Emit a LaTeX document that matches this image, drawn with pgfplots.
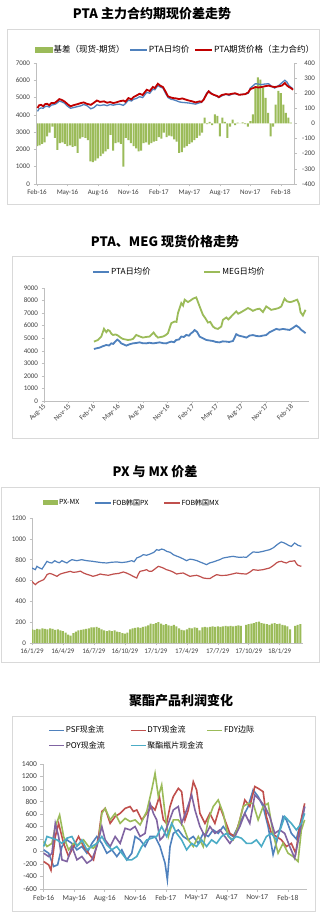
\documentclass[border=0pt]{standalone}
\usepackage{fontspec}
\setmainfont{Carlito}
\newfontfamily\cjk{Noto Sans CJK SC}
\usepackage{pgfplots}
\pgfplotsset{compat=1.18}
\definecolor{pgreen}{HTML}{9BBB59}
\definecolor{pblue}{HTML}{4F81BD}
\definecolor{pred}{HTML}{C0504D}
\definecolor{dred}{HTML}{C00000}
\definecolor{ppurple}{HTML}{8064A2}
\definecolor{paqua}{HTML}{4BACC6}
\definecolor{framegray}{HTML}{D9D9D9}
\definecolor{axgray}{HTML}{BFBFBF}
\definecolor{labgray}{HTML}{404040}
\pgfplotsset{
  exc/.style={scale only axis, anchor=south west,
    axis line style={axgray, line width=0.6pt},
    tick style={axgray, line width=0.5pt},
    tick align=outside, major tick length=2.5pt,
    tick label style={font=\fontsize{7}{8}\selectfont, text=labgray},
    legend cell align=left},
}
\begin{document}
\begin{tikzpicture}
\path[use as bounding box] (0pt,0pt) rectangle (321pt,917pt);
\fill[white] (0pt,0pt) rectangle (321pt,917pt);
\draw[framegray, line width=0.8pt] (7pt,713pt) rectangle (319.5pt,888pt);
\draw[framegray, line width=0.8pt] (12pt,479pt) rectangle (318pt,661pt);
\draw[framegray, line width=0.8pt] (1.5pt,255pt) rectangle (319pt,430pt);
\draw[framegray, line width=0.8pt] (12pt,6pt) rectangle (315pt,201pt);
\node[font=\cjk\bfseries\fontsize{13}{15}\selectfont] at (152pt,903pt) {PTA 主力合约期现价差走势};
\node[font=\cjk\bfseries\fontsize{13}{15}\selectfont] at (165pt,675pt) {PTA、MEG 现货价格走势};
\node[font=\cjk\bfseries\fontsize{13}{15}\selectfont] at (155pt,445pt) {PX 与 MX 价差};
\node[font=\cjk\bfseries\fontsize{13}{15}\selectfont] at (181pt,216pt) {聚酯产品利润变化};

% ---------------- Panel 1: bars (right axis)
\begin{axis}[exc, at={(36pt,733pt)}, width=258pt, height=121pt,
  xmin=-0.1, xmax=25.3, ymin=-400, ymax=400,
  axis y line*=right, axis x line=none,
  ytick={-400,-300,-200,-100,0,100,200,300,400},
  yticklabels={-400,-300,-200,-100,0,100,200,300,400},
  yticklabel style={anchor=east, xshift=22pt}]
\addplot[ybar, bar width=2pt, fill=pgreen, draw=none] coordinates {
(0,-150)(0.25,-145)(0.5,-135)(0.75,-125)(1,-85)(1.25,-60)(1.5,-20)(1.75,-95)(2,-175)(2.25,-130)(2.5,-125)(2.75,-135)(3,-150)(3.25,-145)(3.5,-155)(3.75,-150)(4,-195)(4.25,-100)(4.5,-90)(4.75,-95)(5,-110)(5.25,-250)(5.5,-255)(5.75,-245)(6,-230)(6.25,-215)(6.5,-200)(6.75,-185)(7,-170)(7.25,-75)(7.5,-180)(7.75,-130)(8,-125)(8.25,-135)(8.5,-285)(8.75,-95)(9,-110)(9.25,-130)(9.5,-150)(9.75,-165)(10,-185)(10.25,-180)(10.5,-130)(10.75,-125)(11,-140)(11.25,-130)(11.5,-120)(11.75,-115)(12,-90)(12.25,-100)(12.5,-60)(12.75,-90)(13,-80)(13.25,-85)(13.5,-105)(13.75,-120)(14,-195)(14.25,-190)(14.5,-160)(14.75,-150)(15,-135)(15.25,-125)(15.5,-110)(15.75,-95)(16,-80)(16.25,-60)(16.5,38)(16.75,-5)(17,10)(17.25,-10)(17.5,60)(17.75,50)(18,-85)(18.25,38)(18.5,10)(18.75,-95)(19,-20)(19.25,25)(19.5,-10)(19.75,5)(20,0)(20.25,8)(20.5,-5)(20.75,-20)(21,15)(21.25,60)(21.5,238)(21.75,305)(22,290)(22.25,238)(22.5,170)(22.75,70)(23,-85)(23.25,-20)(23.5,125)(23.75,215)(24,200)(24.25,125)(24.5,70)(24.75,38)(25,5)};
\end{axis}
% ---------------- Panel 1: lines (left axis)
\begin{axis}[exc, at={(36pt,733pt)}, width=258pt, height=121pt,
  xmin=-0.1, xmax=25.3, ymin=0, ymax=7000,
  axis y line*=left, axis x line*=bottom,
  xtick={0,3,6,9,12,15,18,21,24},
  xticklabels={Feb-16,May-16,Aug-16,Nov-16,Feb-17,May-17,Aug-17,Nov-17,Feb-18},
  ytick={0,1000,2000,3000,4000,5000,6000,7000},
  yticklabels={0,1000,2000,3000,4000,5000,6000,7000},
  legend columns=3,
  legend image code/.code={\draw[#1] (0pt,0pt) -- (17pt,0pt);},
  legend style={at={(0,1)}, anchor=west, xshift=-1pt, yshift=13pt, draw=none, fill=none, inner sep=0pt,
    font=\cjk\fontsize{8.5}{10}\selectfont, nodes={inner xsep=1pt, inner ysep=0pt},
    /tikz/every even column/.append style={column sep=4pt}}]
\addlegendimage{legend image code/.code={\fill[pgreen] (0pt,-2.5pt) rectangle (17pt,2.5pt);}}
\addlegendentry{基差（现货-期货）}
\addplot[pblue, line width=1.3pt] coordinates {
(0.05,4200)(0.2,4350)(0.4,4400)(0.6,4380)(0.8,4480)(1.0,4500)(1.2,4450)(1.4,4560)(1.7,4600)(1.9,4650)(2.2,4800)(2.4,4760)(2.7,4680)(3.0,4500)(3.3,4380)(3.6,4420)(4.0,4480)(4.3,4520)(4.6,4600)(4.9,4540)(5.3,4350)(5.6,4420)(5.9,4580)(6.2,4540)(6.6,4580)(6.9,4530)(7.2,4600)(7.5,4560)(7.8,4600)(8.1,4620)(8.5,4550)(8.7,4650)(9.0,4850)(9.3,4800)(9.5,4900)(9.8,4950)(10.1,5050)(10.4,5000)(10.8,5300)(11.1,5250)(11.4,5480)(11.6,5450)(11.9,5700)(12.1,5620)(12.4,5550)(12.7,5200)(12.9,5000)(13.2,4900)(13.4,4880)(13.7,4820)(14.0,4750)(14.3,4720)(14.7,4700)(15.0,4680)(15.3,4650)(15.6,4620)(16.0,4700)(16.2,4720)(16.4,4900)(16.7,5250)(16.9,5380)(17.1,5280)(17.4,5150)(17.7,5080)(17.9,5000)(18.2,5100)(18.6,5200)(18.9,5120)(19.2,5200)(19.5,5230)(19.9,5160)(20.2,5180)(20.5,5200)(20.8,5250)(21.0,5550)(21.3,5700)(21.5,5800)(21.8,5780)(22.1,5750)(22.4,5780)(22.8,5800)(23.1,5650)(23.4,5550)(23.8,5700)(24.1,5850)(24.4,6000)(24.6,5900)(24.8,5700)(25.0,5600)(25.2,5500)};
\addlegendentry{PTA日均价}
\addplot[dred, line width=1.8pt] coordinates {
(0.05,4390)(0.2,4550)(0.4,4580)(0.6,4500)(0.8,4620)(1.0,4640)(1.2,4560)(1.4,4680)(1.7,4680)(1.9,4760)(2.2,4910)(2.4,4870)(2.7,4780)(3.0,4620)(3.3,4490)(3.6,4560)(4.0,4620)(4.3,4680)(4.6,4720)(4.9,4640)(5.3,4580)(5.6,4700)(5.9,4830)(6.2,4750)(6.6,4780)(6.9,4700)(7.2,4740)(7.5,4680)(7.8,4720)(8.1,4780)(8.5,4830)(8.7,4760)(9.0,4970)(9.3,4900)(9.5,5030)(9.8,5120)(10.1,5220)(10.4,5150)(10.8,5450)(11.1,5380)(11.4,5610)(11.6,5550)(11.9,5800)(12.1,5700)(12.4,5610)(12.7,5300)(12.9,5070)(13.2,5000)(13.4,4970)(13.7,4950)(14.0,4910)(14.3,4950)(14.7,4870)(15.0,4820)(15.3,4780)(15.6,4720)(16.0,4780)(16.2,4750)(16.4,4870)(16.7,5200)(16.9,5360)(17.1,5250)(17.4,5160)(17.7,5100)(17.9,5030)(18.2,5150)(18.6,5200)(18.9,5180)(19.2,5220)(19.5,5250)(19.9,5160)(20.2,5180)(20.5,5200)(20.8,5300)(21.0,5490)(21.3,5550)(21.5,5610)(21.8,5580)(22.1,5610)(22.4,5650)(22.8,5690)(23.1,5640)(23.4,5610)(23.8,5650)(24.1,5690)(24.4,5840)(24.6,5700)(24.8,5610)(25.0,5550)(25.2,5450)};
\addlegendentry{PTA期货价格（主力合约）}
\end{axis}

% ---------------- Panel 2
\begin{axis}[exc, at={(44pt,516pt)}, width=265pt, height=113pt,
  xmin=-6, xmax=26.2, ymin=0, ymax=9000,
  axis y line*=left, axis x line*=bottom,
  xtick={-6,-3,0,3,6,9,12,15,18,21,24},
  xticklabels={Aug-15,Nov-15,Feb-16,May-16,Aug-16,Nov-16,Feb-17,May-17,Aug-17,Nov-17,Feb-18},
  xticklabel style={rotate=45, anchor=east, yshift=-2pt, inner sep=0.5pt},
  ytick={0,1000,2000,3000,4000,5000,6000,7000,8000,9000},
  yticklabels={0,1000,2000,3000,4000,5000,6000,7000,8000,9000},
  legend columns=2,
  legend image code/.code={\draw[#1] (0pt,0pt) -- (16pt,0pt);},
  legend style={at={(0,1)}, anchor=west, xshift=48pt, yshift=16pt, draw=none, fill=none, inner sep=0pt,
    font=\cjk\fontsize{8.3}{10}\selectfont, nodes={inner xsep=1pt, inner ysep=0pt},
    /tikz/every even column/.append style={column sep=52pt}}]
\addplot[pblue, line width=1.8pt] coordinates {
(0.07,4140)(0.4,4200)(0.76,4250)(1.1,4350)(1.57,4460)(1.9,4420)(2.18,4590)(2.4,4550)(2.58,4670)(2.91,4890)(3.1,4800)(3.39,4590)(3.7,4500)(4.00,4410)(4.4,4520)(4.81,4590)(5.2,4620)(5.62,4670)(6.0,4600)(6.43,4590)(6.8,4640)(7.24,4590)(7.6,4620)(8.05,4670)(8.5,4600)(8.86,4590)(9.2,4680)(9.47,4730)(9.8,4680)(10.07,4860)(10.4,4900)(10.68,5130)(11.0,5100)(11.29,5260)(11.6,5200)(11.89,5400)(12.1,5500)(12.30,5650)(12.6,5500)(12.91,5130)(13.3,5000)(13.72,4860)(14.1,4820)(14.53,4780)(14.9,4700)(15.34,4670)(15.7,4750)(16.15,4730)(16.5,4700)(16.96,4780)(17.36,5320)(17.7,5200)(18.17,5130)(18.6,5050)(18.98,5210)(19.4,5250)(19.79,5180)(20.2,5150)(20.60,5210)(21.0,5250)(21.41,5480)(21.8,5600)(22.22,5740)(22.6,5680)(23.03,5740)(23.4,5700)(23.84,5660)(24.2,5800)(24.65,6010)(25.0,5850)(25.26,5660)(25.5,5550)(25.78,5400)};
\addlegendentry{PTA日均价}
\addplot[pgreen, line width=1.8pt] coordinates {
(0.07,4730)(0.56,4860)(0.96,5130)(1.29,5750)(1.57,5480)(1.77,5650)(1.98,5580)(2.2,5350)(2.38,5260)(2.7,5300)(2.99,5210)(3.3,5050)(3.60,4940)(3.9,4900)(4.20,4860)(4.5,4880)(4.81,4940)(5.21,5260)(5.6,5150)(6.02,5050)(6.4,5100)(6.83,5130)(7.32,5450)(7.6,5200)(7.85,5050)(8.2,5100)(8.45,5130)(8.8,5250)(9.06,5400)(9.47,6200)(9.87,6330)(10.1,6300)(10.28,7000)(10.68,7800)(10.9,7600)(11.09,8070)(11.49,7880)(11.8,8000)(12.10,8150)(12.50,8250)(12.7,7900)(12.91,7530)(13.31,6860)(13.6,6600)(13.92,6250)(14.2,6300)(14.53,5930)(14.8,5800)(15.13,5740)(15.54,5930)(15.74,6460)(16.15,6650)(16.4,6500)(16.75,6730)(17.0,6900)(17.36,7130)(17.6,6950)(17.97,7080)(18.4,7250)(18.78,7400)(19.1,7300)(19.38,7180)(19.8,7300)(20.19,7350)(20.60,7080)(21.00,7530)(21.3,7400)(21.61,7260)(21.9,7300)(22.22,7350)(22.5,7400)(22.83,7530)(23.23,8150)(23.5,7950)(23.84,7880)(24.1,7900)(24.45,7990)(24.77,8070)(25.0,7700)(25.17,7080)(25.46,6810)(25.78,7260)};
\addlegendentry{MEG日均价}
\end{axis}

% ---------------- Panel 3
\begin{axis}[exc, at={(32pt,274pt)}, width=271pt, height=125pt,
  xmin=0, xmax=26.26, ymin=0, ymax=1200,
  axis y line*=left, axis x line*=bottom,
  xtick={0,3,6,9,12,15,18,21,24},
  xticklabels={16/1/29,16/4/29,16/7/29,16/10/29,17/1/29,17/4/29,17/7/29,17/10/29,18/1/29},
  ytick={0,200,400,600,800,1000,1200},
  yticklabels={0,200,400,600,800,1000,1200},
  legend columns=3,
  legend image code/.code={\draw[#1] (0pt,0pt) -- (16pt,0pt);},
  legend style={at={(0,1)}, anchor=west, xshift=11pt, yshift=15pt, draw=none, fill=none, inner sep=0pt,
    font=\cjk\fontsize{7}{9}\selectfont, nodes={inner xsep=1pt, inner ysep=0pt},
    /tikz/every even column/.append style={column sep=14pt}}]
\addplot[ybar, bar width=2pt, fill=pgreen, draw=none,
  legend image code/.code={\fill[pgreen] (0pt,-2.5pt) rectangle (15pt,2.5pt);}] coordinates {
(0,130)(0.25,125)(0.5,135)(0.75,130)(1,140)(1.25,135)(1.5,130)(1.75,140)(2,135)(2.25,125)(2.5,130)(2.75,120)(3,115)(3.25,100)(3.5,80)(3.75,70)(4,95)(4.25,110)(4.5,120)(4.75,125)(5,130)(5.25,135)(5.5,140)(5.75,150)(6,150)(6.25,155)(6.5,145)(6.75,130)(7,120)(7.25,115)(7.5,120)(7.75,115)(8,120)(8.25,110)(8.5,105)(8.75,95)(9,90)(9.25,100)(9.5,130)(9.75,140)(10,145)(10.25,150)(10.5,145)(10.75,155)(11,160)(11.25,170)(11.5,185)(11.75,180)(12,190)(12.25,200)(12.5,185)(12.75,175)(13,180)(13.25,170)(13.5,165)(13.75,175)(14,160)(14.25,140)(14.5,125)(14.75,120)(15,130)(15.25,145)(15.5,140)(15.75,150)(16,145)(16.25,120)(16.5,150)(16.75,155)(17,150)(17.25,155)(17.5,160)(17.75,155)(18,160)(18.25,155)(18.5,160)(18.75,165)(19,160)(19.25,165)(19.5,160)(19.75,165)(20,170)(20.25,165)(20.75,175)(21,180)(21.25,185)(21.5,190)(21.75,200)(22,205)(22.25,190)(22.5,185)(22.75,180)(23,175)(23.25,185)(23.5,190)(23.75,180)(24,185)(24.25,175)(24.5,170)(24.75,160)(25,130)(25.5,165)(25.75,175)(26,180)};
\addlegendentry{PX-MX}
\addplot[pblue, line width=1.2pt] coordinates {
(0,720)(0.16,712)(0.32,704)(0.48,736)(0.7,722)(0.97,710)(1.2,745)(1.45,784)(1.7,772)(1.93,768)(2.2,790)(2.42,778)(2.65,770)(2.90,790)(3.1,780)(3.38,768)(3.6,785)(3.87,800)(4.1,795)(4.35,790)(4.8,800)(5.32,790)(5.8,785)(6.28,778)(6.7,772)(7.25,768)(7.7,775)(8.22,778)(8.7,772)(9.18,778)(9.66,790)(9.9,780)(10.15,816)(10.5,830)(10.79,848)(11.1,842)(11.44,854)(11.8,870)(12.08,896)(12.3,890)(12.56,902)(12.8,895)(13.05,880)(13.4,870)(13.69,848)(14.0,835)(14.34,822)(14.7,805)(14.98,790)(15.3,805)(15.63,800)(16.0,790)(16.27,778)(16.6,765)(16.91,752)(17.2,768)(17.56,778)(17.9,790)(18.20,800)(18.5,815)(18.85,822)(19.2,828)(19.49,832)(19.8,826)(20.14,822)(20.5,825)(20.78,822)(21.1,850)(21.42,874)(21.9,870)(22.39,880)(22.7,888)(23.03,896)(23.4,915)(23.68,938)(23.9,955)(24.16,970)(24.4,962)(24.65,950)(24.9,935)(25.13,928)(25.3,945)(25.45,960)(25.6,950)(25.77,938)(26.10,928)};
\addlegendentry{FOB韩国PX}
\addplot[pred, line width=1.2pt] coordinates {
(0,592)(0.16,575)(0.32,560)(0.48,575)(0.64,586)(0.9,598)(1.13,608)(1.3,630)(1.45,656)(1.7,668)(1.93,662)(2.2,650)(2.42,640)(2.7,660)(3.06,672)(3.4,680)(3.70,688)(4.0,678)(4.35,682)(4.7,690)(4.99,672)(5.3,660)(5.64,650)(5.9,640)(6.28,650)(6.6,662)(6.93,656)(7.4,650)(7.89,662)(8.4,668)(8.86,682)(9.2,670)(9.50,656)(9.8,640)(10.15,624)(10.3,660)(10.47,688)(10.8,695)(11.11,704)(11.3,690)(11.60,688)(11.9,710)(12.24,736)(12.5,728)(12.72,720)(13.0,705)(13.37,694)(13.7,680)(14.01,662)(14.3,668)(14.66,672)(15.0,655)(15.30,640)(15.6,645)(15.95,650)(16.3,638)(16.59,624)(16.9,620)(17.24,618)(17.5,635)(17.88,656)(18.3,648)(18.85,650)(19.3,660)(19.81,672)(20.3,665)(20.78,662)(21.1,680)(21.42,704)(21.9,698)(22.39,704)(22.7,712)(23.03,720)(23.4,745)(23.68,768)(23.9,780)(24.16,784)(24.4,775)(24.65,768)(24.97,784)(25.2,785)(25.45,790)(25.6,765)(25.77,746)(26.10,736)};
\addlegendentry{FOB韩国MX}
\end{axis}

% ---------------- Panel 4
\begin{axis}[exc, at={(43pt,28pt)}, width=264pt, height=125pt,
  xmin=128, xmax=922, ymin=-600, ymax=1400,
  axis y line*=left, axis x line*=bottom,
  tick label style={font=\fontsize{7.5}{9}\selectfont},
  xtick={130,221.8,313.6,405.4,497.2,589,680.8,772.6,864.4},
  xticklabels={Feb-16,May-16,Aug-16,Nov-16,Feb-17,May-17,Aug-17,Nov-17,Feb-18},
  ytick={-600,-400,-200,0,200,400,600,800,1000,1200,1400},
  yticklabels={-600,-400,-200,0,200,400,600,800,1000,1200,1400},
  legend columns=3,
  legend image code/.code={\draw[#1] (0pt,0pt) -- (15pt,0pt);},
  legend style={at={(0,1)}, anchor=north west, xshift=5pt, yshift=38pt, draw=none, fill=none, inner sep=0pt,
    font=\cjk\fontsize{8}{10}\selectfont, nodes={inner xsep=1pt, inner ysep=0pt}, row sep=7pt,
    /tikz/column 2/.append style={column sep=24pt},
    /tikz/column 4/.append style={column sep=2pt}}]
\addplot[pblue, line width=1.6pt] coordinates {
(130,27)(145,-27)(160,-240)(172,-213)(185,80)(200,186)(215,130)(230,27)(245,80)(260,-27)(275,130)(290,240)(305,130)(320,-27)(335,27)(350,-80)(365,27)(380,-133)(395,-27)(405,240)(420,186)(435,80)(450,240)(465,240)(480,80)(495,-186)(502,-450)(510,80)(520,290)(535,345)(550,240)(565,186)(580,240)(595,130)(610,290)(625,240)(640,345)(655,290)(670,400)(685,290)(700,240)(715,400)(730,560)(745,720)(760,985)(775,880)(790,720)(805,400)(820,-50)(835,240)(850,560)(860,505)(875,290)(890,200)(905,505)(915,720)};
\addlegendentry{PSF现金流}
\addplot[pred, line width=1.6pt] coordinates {
(130,-160)(145,-213)(152,-300)(165,240)(175,450)(190,130)(205,-80)(220,80)(235,240)(250,80)(265,-27)(280,-133)(295,240)(305,640)(315,690)(330,450)(345,560)(360,610)(375,690)(390,720)(400,640)(410,665)(425,505)(440,610)(455,720)(465,665)(478,880)(490,505)(500,450)(510,720)(520,880)(535,1010)(545,958)(555,505)(565,665)(580,1117)(590,985)(600,610)(615,450)(630,610)(645,450)(660,720)(675,505)(690,290)(705,240)(720,505)(735,825)(750,720)(765,1040)(775,1010)(790,958)(800,560)(815,290)(830,240)(845,186)(860,80)(875,130)(888,-27)(900,400)(915,770)};
\addlegendentry{DTY现金流}
\addplot[pgreen, line width=1.6pt] coordinates {
(130,160)(140,80)(155,130)(165,400)(178,585)(190,240)(205,27)(220,130)(235,106)(250,186)(265,80)(280,53)(295,160)(305,610)(315,690)(330,505)(345,610)(360,450)(375,530)(390,480)(405,505)(420,425)(440,640)(455,985)(465,1250)(475,880)(485,1065)(495,610)(505,240)(520,505)(535,505)(550,400)(565,186)(580,80)(595,240)(610,80)(625,505)(640,720)(655,825)(670,610)(685,240)(700,186)(715,400)(730,720)(745,770)(760,770)(775,505)(790,720)(805,770)(820,290)(835,-27)(850,130)(865,-27)(880,-80)(895,-160)(905,345)(915,505)};
\addlegendentry{FDY边际}
\addplot[ppurple, line width=1.6pt] coordinates {
(130,-27)(145,-80)(155,-27)(165,450)(175,240)(185,-133)(200,-160)(215,80)(230,-133)(245,-80)(260,-186)(275,-133)(290,80)(305,400)(315,186)(330,80)(345,240)(360,130)(375,372)(390,345)(405,400)(420,240)(435,290)(450,770)(460,610)(470,505)(480,186)(490,240)(505,450)(520,665)(535,720)(545,450)(560,665)(575,905)(585,665)(600,400)(615,240)(630,400)(645,290)(660,345)(675,240)(690,130)(705,240)(720,400)(735,610)(750,450)(765,905)(780,825)(795,720)(810,560)(825,290)(840,345)(855,290)(870,80)(885,-106)(900,290)(915,720)};
\addlegendentry{POY现金流}
\addplot[paqua, line width=1.6pt] coordinates {
(130,80)(140,240)(155,213)(170,186)(185,130)(200,213)(215,240)(230,80)(245,186)(260,27)(275,80)(290,130)(305,240)(320,106)(335,27)(350,80)(365,-27)(380,-133)(395,-133)(410,-80)(425,80)(440,186)(455,213)(470,240)(485,400)(500,240)(515,450)(530,290)(545,186)(560,27)(575,130)(590,80)(605,186)(620,80)(635,186)(650,130)(665,240)(680,290)(695,186)(710,240)(725,213)(740,130)(755,130)(770,186)(785,80)(800,240)(815,290)(830,186)(845,400)(855,560)(865,505)(875,450)(890,345)(905,450)(915,610)};
\addlegendentry{聚酯瓶片现金流}
\end{axis}
\end{tikzpicture}
\end{document}
